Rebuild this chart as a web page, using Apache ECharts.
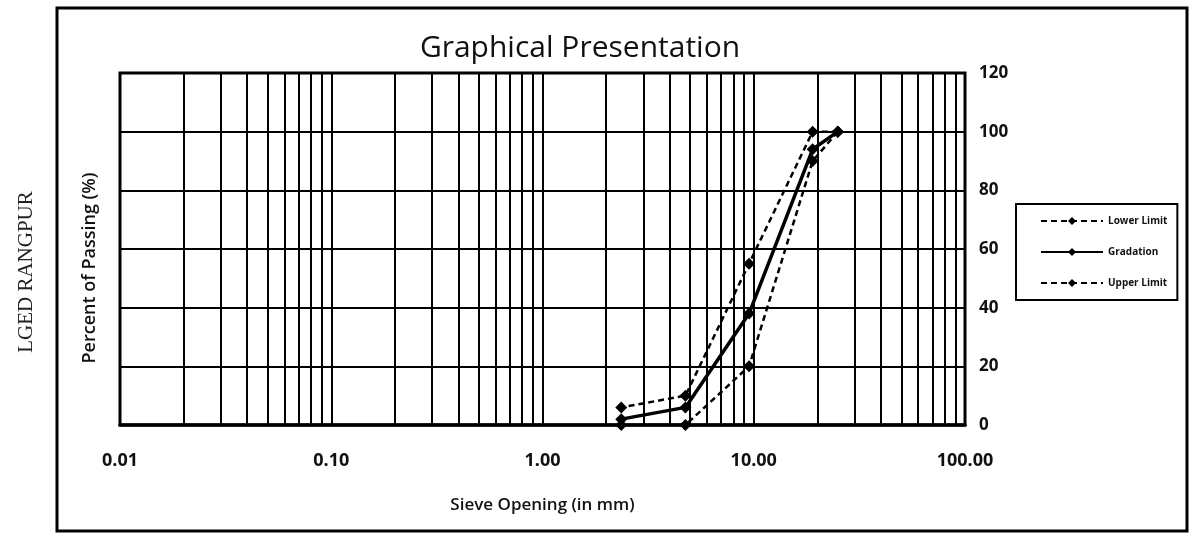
<!DOCTYPE html>
<html>
<head>
<meta charset="utf-8">
<script src="https://cdn.jsdelivr.net/npm/echarts@6/dist/echarts.min.js"></script>
<style>
html,body{margin:0;padding:0;background:#fff;}
#chart{width:1192px;height:538px;}
</style>
</head>
<body>
<div id="chart"></div>
<script>
var sieves = [25, 19, 9.5, 4.75, 2.36];
var lowerLimit = [100, 90, 20, 0, 0];
var gradation = [100, 94, 38, 6, 2];
var upperLimit = [100, 100, 55, 10, 6];
var yTicks = [0, 20, 40, 60, 80, 100, 120];
var decades = [0.01, 0.1, 1, 10];

function pairs(vals){ return sieves.map(function(s,i){ return [s, vals[i]]; }); }

var minorLines = [];
decades.forEach(function(d){
  for (var k = 2; k <= 9; k++) minorLines.push({xAxis: +(k*d).toPrecision(3)});
});

var chart = echarts.init(document.getElementById('chart'));
var font = '"Open Sans", Lato, sans-serif';
chart.setOption({
  animation: false,
  backgroundColor: '#fff',
  graphic: [
    {type:'rect', shape:{x:57,y:8,width:1130,height:523}, style:{fill:'none',stroke:'#000',lineWidth:3}, silent:true},
    {type:'text', x:580, y:48, style:{text:'Graphical Presentation', font:'500 30px '+font, fill:'#111', textAlign:'center', textVerticalAlign:'middle'}},
    {type:'text', x:26, y:272, rotation:Math.PI/2, style:{text:'LGED RANGPUR', font:'21px "Liberation Serif", serif', fill:'#222', textAlign:'center', textVerticalAlign:'middle'}},
    {type:'text', x:90, y:268, rotation:Math.PI/2, style:{text:'Percent of Passing (%)', font:'600 18px '+font, fill:'#111', textAlign:'center', textVerticalAlign:'middle'}}
  ],
  legend: {
    orient: 'vertical',
    left: 1016, top: 204,
    data: ['Lower Limit', 'Gradation', 'Upper Limit'],
    itemWidth: 62, itemHeight: 10, itemGap: 21,
    padding: [12, 10, 12, 24],
    borderColor: '#000', borderWidth: 2,
    textStyle: {fontSize: 10, fontWeight: 'bold', color: '#111', fontFamily: font}
  },
  grid: {left: 120, right: 227, top: 73, bottom: 113, show: true, borderColor: '#000', borderWidth: 3, backgroundColor: 'transparent'},
  xAxis: {
    type: 'log', logBase: 10, min: 0.01, max: 100,
    name: 'Sieve Opening (in mm)', nameLocation: 'middle', nameGap: 72,
    nameTextStyle: {fontSize: 17, fontWeight: 600, color: '#111', fontFamily: font},
    axisLine: {show: true, lineStyle: {color: '#000', width: 3.5}},
    axisTick: {show: false},
    axisLabel: {margin: 27, fontSize: 18, fontWeight: 'bold', color: '#111', fontFamily: font,
      formatter: function(v){ return v.toFixed(2); }},
    splitLine: {show: true, lineStyle: {color: '#000', width: 2}}
  },
  yAxis: {
    type: 'value', position: 'right', min: 0, max: 120, interval: 20,
    axisLine: {show: false}, axisTick: {show: false},
    axisLabel: {margin: 14, fontSize: 17, fontWeight: 'bold', color: '#111', fontFamily: font,
      formatter: function(v){ return yTicks.indexOf(v) >= 0 ? String(v) : ''; }},
    splitLine: {show: true, lineStyle: {color: '#000', width: 2}}
  },
  series: [
    {name: 'grid', type: 'line', data: [], silent: true, z: 1,
      markLine: {silent: true, symbol: 'none', label: {show: false}, animation: false,
        lineStyle: {color: '#000', width: 2, type: 'solid'}, data: minorLines}},
    {name: 'Lower Limit', type: 'line', data: pairs(lowerLimit), z: 5,
      symbol: 'diamond', symbolSize: 12, itemStyle: {color: '#000'},
      lineStyle: {color: '#000', width: 2.5, type: [6, 4]}},
    {name: 'Gradation', type: 'line', data: pairs(gradation), z: 6,
      symbol: 'diamond', symbolSize: 12, itemStyle: {color: '#000'},
      lineStyle: {color: '#000', width: 3.5, type: 'solid'}},
    {name: 'Upper Limit', type: 'line', data: pairs(upperLimit), z: 5,
      symbol: 'diamond', symbolSize: 12, itemStyle: {color: '#000'},
      lineStyle: {color: '#000', width: 2.5, type: [6, 4]}}
  ]
});
</script>
</body>
</html>
